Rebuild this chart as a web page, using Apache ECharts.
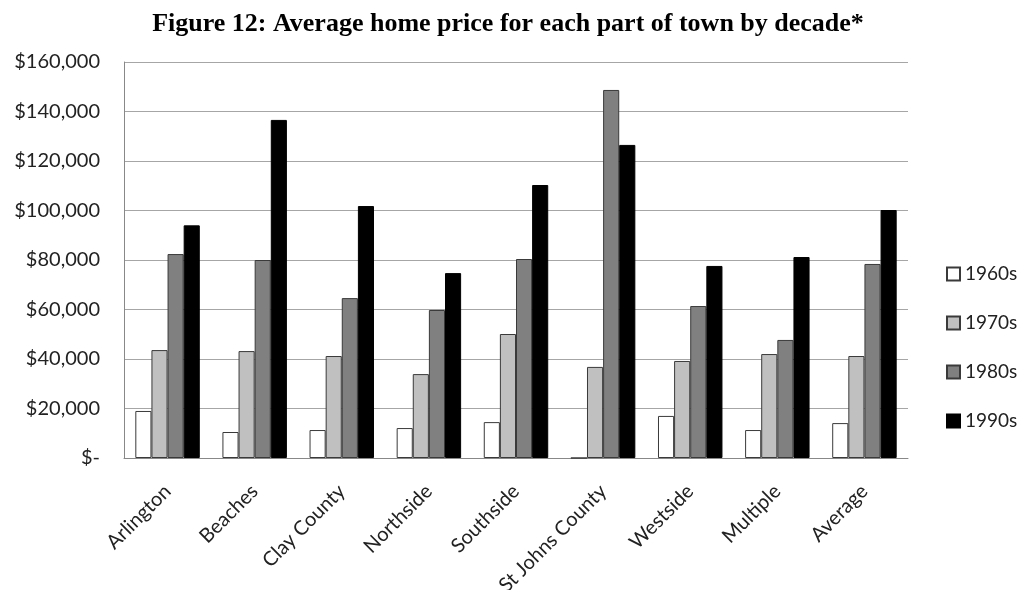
<!DOCTYPE html>
<html>
<head>
<meta charset="utf-8">
<script src="https://cdn.jsdelivr.net/npm/echarts@6/dist/echarts.min.js"></script>
<style>
    html, body { margin: 0; padding: 0; background: #fff; }
    #chart { width: 1024px; height: 590px; }
</style>
</head>
<body>
<div id="chart"></div>
<script>
const categories = ['Arlington', 'Beaches', 'Clay County', 'Northside', 'Southside', 'St Johns County', 'Westside', 'Multiple', 'Average'];
const decades = ['1960s', '1970s', '1980s', '1990s'];
const price1960s = [19000, 10500, 11300, 12100, 14500, 0, 17000, 11300, 14100];
const price1970s = [43600, 43200, 41200, 33900, 50100, 36800, 39200, 42000, 41200];
const price1980s = [82400, 80000, 64600, 59800, 80400, 148700, 61400, 47700, 78400];
const price1990s = [94000, 136600, 101800, 74700, 110300, 126500, 77600, 81200, 100200];
const yTicks = [0, 20000, 40000, 60000, 80000, 100000, 120000, 140000, 160000];

const colors = ['#ffffff', '#c0c0c0', '#808080', '#000000'];
const font = 'Lato, "Open Sans", sans-serif';

const chart = echarts.init(document.getElementById('chart'));

function money(v) {
    if (v === 0) return '$-';
    return '$' + v.toLocaleString('en-US');
}

chart.setOption({
    animation: false,
    title: {
        text: 'Figure 12: Average home price for each part of town by decade*',
        left: 503,
        textAlign: 'center',
        top: 6,
        textStyle: {
            fontFamily: '"Liberation Serif", "DejaVu Serif", serif',
            fontWeight: 'bold',
            fontSize: 26,
            color: '#000'
        }
    },
    legend: {
        data: decades,
        orient: 'vertical',
        left: 941,
        top: 259,
        itemGap: 29,
        itemWidth: 13,
        itemHeight: 13,
        itemGap: 29,
        icon: 'rect',
        textStyle: { fontFamily: font, fontSize: 19, lineHeight: 20, color: '#222' }
    },
    grid: {
        left: 124,
        right: 116,
        top: 62,
        bottom: 132,
        containLabel: false,
        outerBoundsMode: 'none'
    },
    xAxis: {
        type: 'category',
        data: categories,
        axisLine: { lineStyle: { color: '#888', width: 1 } },
        axisTick: { show: false },
        axisLabel: {
            rotate: 45,
            interval: 0,
            margin: 30,
            fontFamily: font,
            fontSize: 20,
            color: '#222'
        }
    },
    yAxis: {
        type: 'value',
        min: 0,
        max: yTicks[yTicks.length - 1],
        interval: yTicks[1] - yTicks[0],
        axisLine: { show: true, lineStyle: { color: '#888', width: 1 } },
        axisTick: { show: false },
        splitLine: { lineStyle: { color: '#a6a6a6', width: 1 } },
        axisLabel: {
            formatter: money,
            margin: 24,
            fontFamily: font,
            fontSize: 20,
            color: '#222'
        }
    },
    series: [price1960s, price1970s, price1980s, price1990s].map((vals, i) => ({
        name: decades[i],
        type: 'bar',
        data: vals,
        barGap: '0%',
        barCategoryGap: '26%',
        itemStyle: {
            color: colors[i],
            borderColor: i === 3 ? '#000' : '#3a3a3a',
            borderWidth: 1
        }
    }))
});
</script>
</body>
</html>
